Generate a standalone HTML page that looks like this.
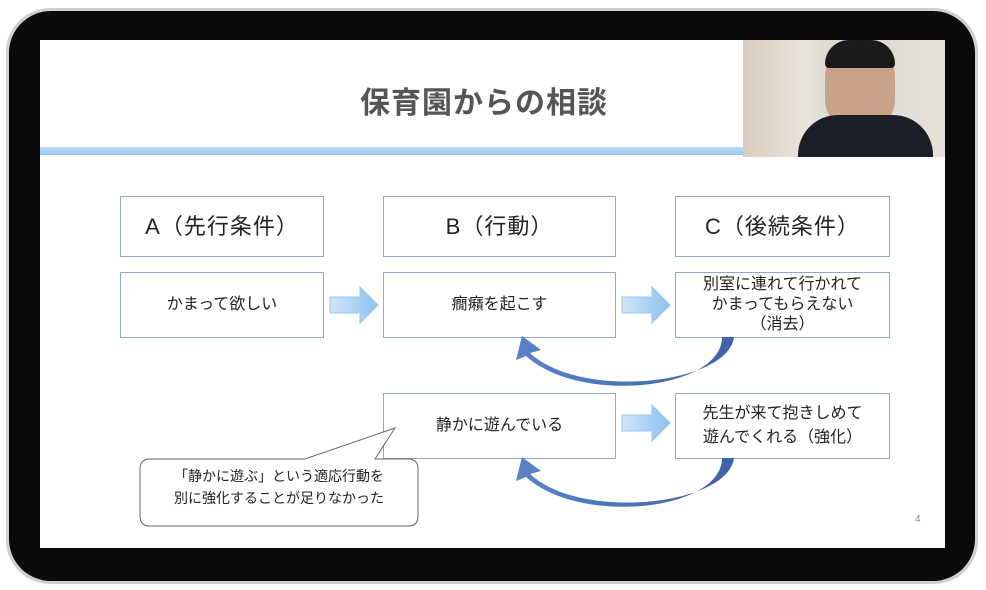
<!DOCTYPE html>
<html><head><meta charset="utf-8"><style>
body{margin:0;width:986px;height:590px;background:#fff;position:relative;overflow:hidden;font-family:"Liberation Sans","Noto Sans CJK JP",sans-serif;}
.abs{position:absolute}
.box{position:absolute;border:1px solid #8fa8cc;background:#fff;display:flex;align-items:center;justify-content:center;text-align:center;color:#222;font-size:16px;line-height:22px;box-sizing:border-box}
.hdr{font-size:22px;letter-spacing:1px}
</style></head><body>
<div class="abs" style="left:6px;top:8px;width:972px;height:576px;border-radius:44px;background:#d0d0d0"></div>
<div class="abs" style="left:9px;top:11px;width:966px;height:570px;border-radius:42px;background:#0a0a0a"></div>
<div class="abs" style="left:40px;top:40px;width:905px;height:508px;background:#fff"></div>
<div class="abs" style="left:40px;top:147px;width:703px;height:8px;background:linear-gradient(#bcdcf3,#9cc9ee)"></div>
<div class="abs" style="left:360px;top:78px;font-size:30px;color:#555;font-weight:bold;letter-spacing:1px">保育園からの相談</div>
<div class="abs" style="left:743px;top:40px;width:202px;height:117px;background:linear-gradient(90deg,#d8ccbb 0,#e9e5dc 30%,#d9d6cf 50%,#e6e2da 100%)"></div>
<div class="abs" style="left:825px;top:42px;width:70px;height:88px;border-radius:35px 35px 30px 30px;background:#c9a28a"></div>
<div class="abs" style="left:825px;top:40px;width:70px;height:28px;border-radius:30px 30px 5px 5px;background:#1b1b1b"></div>
<div class="abs" style="left:798px;top:115px;width:135px;height:42px;border-radius:40px 40px 0 0;background:#1c1e26"></div>
<div class="box hdr" style="left:120px;top:196px;width:204px;height:61px">A（先行条件）</div>
<div class="box hdr" style="left:383px;top:196px;width:233px;height:61px">B（行動）</div>
<div class="box hdr" style="left:675px;top:196px;width:215px;height:61px">C（後続条件）</div>
<div class="box" style="left:120px;top:272px;width:204px;height:66px">かまって欲しい</div>
<div class="box" style="left:383px;top:272px;width:233px;height:66px">癇癪を起こす</div>
<div class="box" style="left:675px;top:272px;width:215px;height:66px;line-height:20px">別室に連れて行かれて<br>かまってもらえない<br>（消去）</div>
<div class="box" style="left:383px;top:393px;width:233px;height:66px">静かに遊んでいる</div>
<div class="box" style="left:675px;top:393px;width:215px;height:66px;line-height:24px">先生が来て抱きしめて<br>遊んでくれる（強化）</div>
<svg class="abs" style="left:0;top:0" width="986" height="590">
<defs><linearGradient id="g" x1="0" x2="1"><stop offset="0" stop-color="#cfe6fa"/><stop offset="1" stop-color="#8cc2ef"/></linearGradient>
<linearGradient id="c" x1="0" x2="1"><stop offset="0" stop-color="#5b82c8"/><stop offset="1" stop-color="#3e63a8"/></linearGradient></defs>
<path d="M330 297h30v-10l18 18l-18 18v-10h-30z" fill="url(#g)" stroke="#9cc6ea"/>
<path d="M622 297h30v-10l18 18l-18 18v-10h-30z" fill="url(#g)" stroke="#9cc6ea"/>
<path d="M622 415h30v-10l18 18l-18 18v-10h-30z" fill="url(#g)" stroke="#9cc6ea"/>
<path d="M734 337 C728 385 580 400 530 353 L541 350 L522 336 L516 360 L526 356 C580 405 722 390 722 337Z" fill="url(#c)"/>
<path d="M734 458 C728 506 580 521 530 474 L541 471 L522 457 L516 481 L526 477 C580 526 722 511 722 458Z" fill="url(#c)"/>
<path d="M150 459 L305 459 L395 428 L375 459 L408 459 Q418 459 418 469 L418 516 Q418 526 408 526 L150 526 Q140 526 140 516 L140 469 Q140 459 150 459Z" fill="#fff" stroke="#666"/>
</svg>
<div class="abs" style="left:140px;top:465px;width:278px;text-align:center;font-size:14px;line-height:22px;color:#222">「静かに遊ぶ」という適応行動を<br>別に強化することが足りなかった</div>
<div class="abs" style="left:915px;top:514px;font-size:10px;color:#888">4</div>
</body></html>
